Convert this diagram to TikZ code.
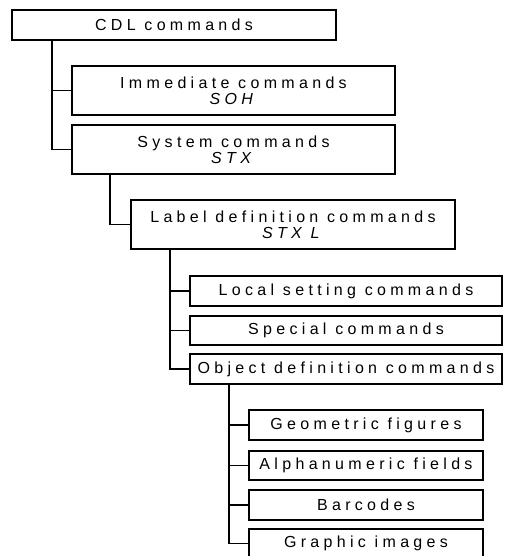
\documentclass[tikz,border=0pt]{standalone}
\usepackage{fontspec}
\newfontfamily\boxfont[LetterSpace=27]{Liberation Sans}
\begin{document}
\begin{tikzpicture}[x=1pt,y=-1pt,
  box/.style={draw=black, line width=1.3pt, rectangle, inner sep=0pt, outer sep=0pt,
    align=center, font=\boxfont\fontsize{16}{16}\selectfont},
  conn/.style={draw=black, line width=1.3pt}]
\useasboundingbox (0,0) rectangle (504,556);
% boxes: (left,top)-(right,bottom)
\node[box, minimum width=324pt, minimum height=30pt] (A) at (174,25) {CDL commands};
\node[box, minimum width=323pt, minimum height=49pt] (B) at (233.5,90.5) {Immediate commands\\\textit{SOH}};
\node[box, minimum width=323pt, minimum height=49pt] (C) at (233.5,149.5) {System commands\\\textit{STX}};
\node[box, minimum width=324pt, minimum height=49pt] (D) at (293,224.5) {Label definition commands\\\textit{STX L}};
\node[box, minimum width=312pt, minimum height=30pt] (E) at (346,291) {Local setting commands};
\node[box, minimum width=312pt, minimum height=29pt] (F) at (346,330.5) {Special commands};
\node[box, minimum width=312pt, minimum height=30pt] (G) at (346,369) {Object definition commands};
\node[box, minimum width=234pt, minimum height=30pt] (H) at (366,425) {Geometric figures};
\node[box, minimum width=234pt, minimum height=29pt] (I) at (366,465.5) {Alphanumeric fields};
\node[box, minimum width=234pt, minimum height=30pt] (J) at (366,505) {Barcodes};
\node[box, minimum width=234pt, minimum height=29pt] (K) at (366,543.5) {Graphic images};
% connectors
\draw[conn] ([xshift=40pt]A.south west) |- (B.west);
\draw[conn] ([xshift=40pt]A.south west) |- (C.west);
\draw[conn] ([xshift=38pt]C.south west) |- (D.west);
\draw[conn] ([xshift=39pt]D.south west) |- (E.west);
\draw[conn] ([xshift=39pt]D.south west) |- (F.west);
\draw[conn] ([xshift=39pt]D.south west) |- (G.west);
\draw[conn] ([xshift=39pt]G.south west) |- (H.west);
\draw[conn] ([xshift=39pt]G.south west) |- (I.west);
\draw[conn] ([xshift=39pt]G.south west) |- (J.west);
\draw[conn] ([xshift=39pt]G.south west) |- (K.west);
\end{tikzpicture}
\end{document}
